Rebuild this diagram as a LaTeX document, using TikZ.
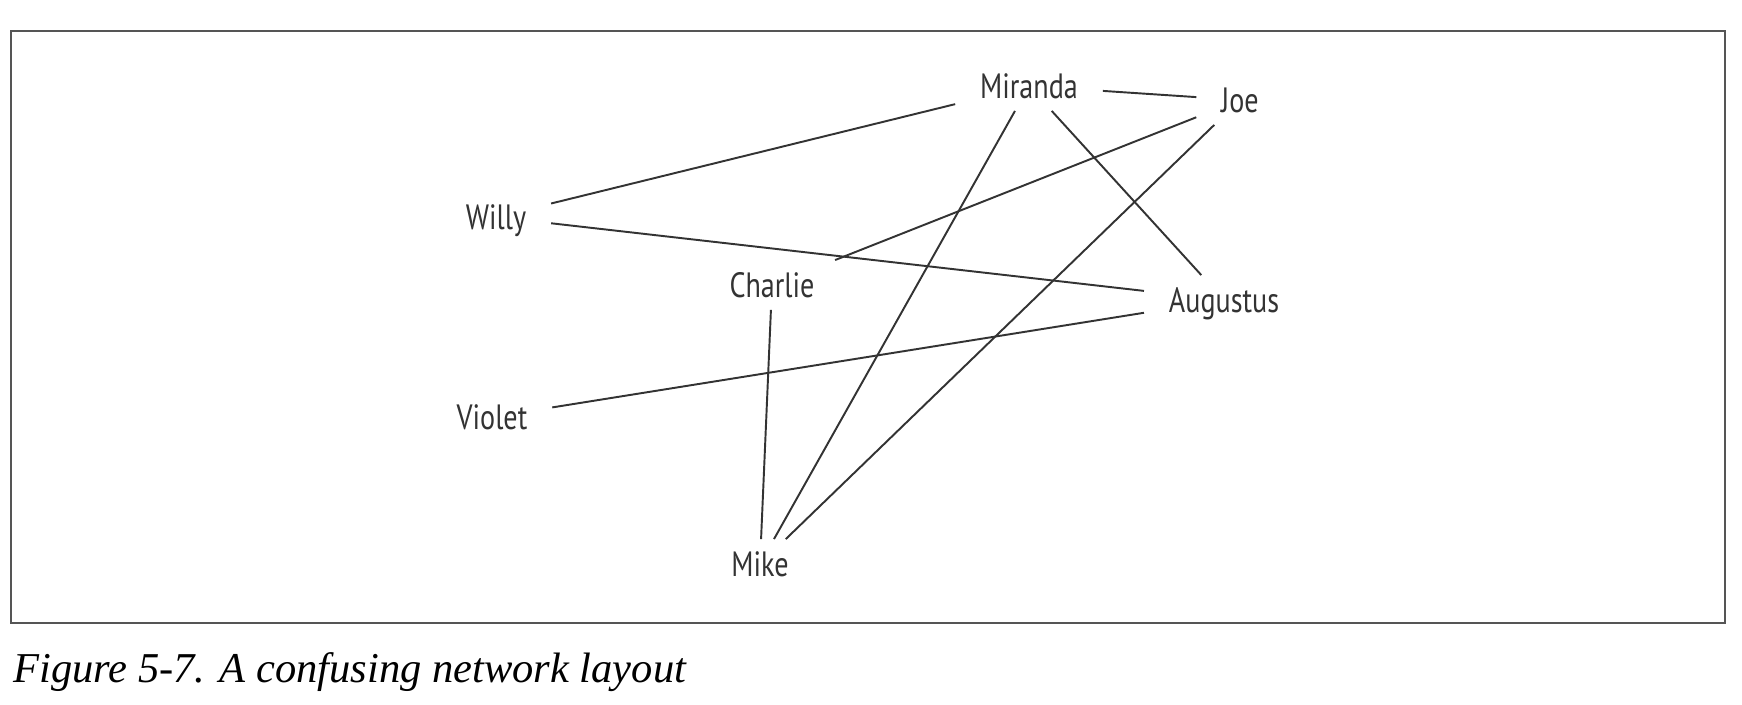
\documentclass[tikz,border=0pt]{standalone}
\usepackage{fontspec}
\setmainfont{Liberation Serif}
\newfontfamily\namefont{PT Sans}[FakeStretch=0.8]
\definecolor{inkgray}{HTML}{333333}
\definecolor{framegray}{HTML}{555555}

\begin{document}
\begin{tikzpicture}[x=0.02cm,y=-0.02cm]
				\tikzstyle{person}=[inner xsep=14pt,inner ysep=7pt,text height=14pt,text depth=0pt,
				font=\namefont\fontsize{20}{24}\selectfont,text=inkgray]
				\tikzstyle{link}=[draw=inkgray,line width=1.1pt]
				\useasboundingbox (0,0) rectangle (1742,704);
				\draw[framegray,line width=1.1pt] (11,31) rectangle (1725,623);
				\node[person] (miranda) at (1029,86) {Miranda};
				\node[person] (joe) at (1240,100) {Joe};
				\node[person] (willy) at (496,217) {Willy};
				\node[person] (charlie) at (772,285) {Charlie};
				\node[person] (augustus) at (1224,300) {Augustus};
				\node[person] (violet) at (492,417) {Violet};
				\node[person] (mike) at (760,564) {Mike};
				\draw[link] (willy) -- (miranda);
				\draw[link] (willy) -- (augustus);
				\draw[link] (miranda) -- (joe);
				\draw[link] (joe) -- (charlie);
				\draw[link] (miranda) -- (mike);
				\draw[link] (miranda) -- (augustus);
				\draw[link] (joe) -- (mike);
				\draw[link] (charlie) -- (mike);
				\draw[link] (violet) -- (augustus);
				\node[anchor=base west,inner sep=0pt,font=\itshape\fontsize{24.2}{29}\selectfont] (caption) at (13,682) {Figure 5-7. A confusing network layout};
\end{tikzpicture}
\end{document}
